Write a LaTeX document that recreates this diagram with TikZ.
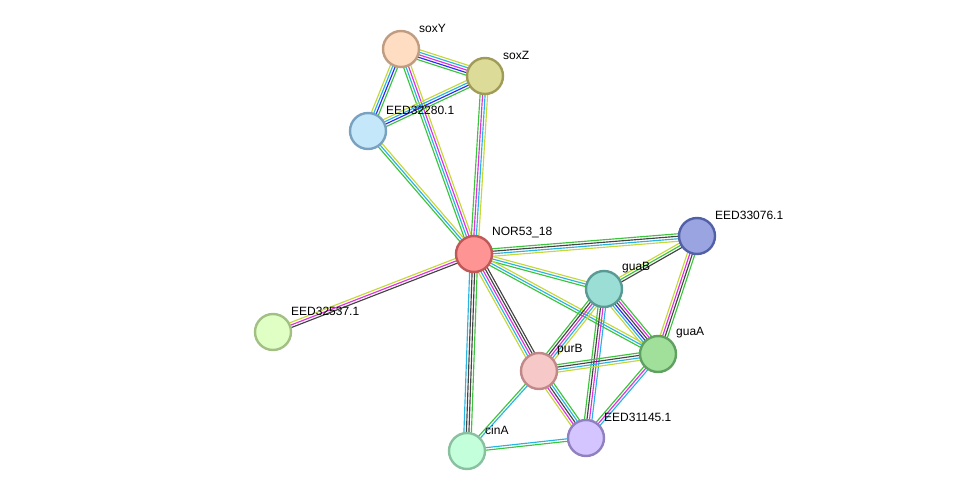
\documentclass[tikz,border=0pt]{standalone}
\usepackage{fontspec}
\setmainfont{Liberation Sans}
\usetikzlibrary{calc}
\pgfdeclarelayer{background}
\pgfsetlayers{background,main}

% evidence channel colours
\definecolor{evgreen}{HTML}{3CC43C}
\definecolor{evcyan}{HTML}{28B4E0}
\definecolor{evblue}{HTML}{2A2AF0}
\definecolor{evmag}{HTML}{E030E0}
\definecolor{evyel}{HTML}{C6D838}
\definecolor{evgray}{HTML}{444444}

\tikzset{
  protein/.style={circle, minimum size=36pt, inner sep=0pt, line width=2.4pt},
  plabel/.style={anchor=west, inner sep=0pt, font=\fontsize{12}{14}\selectfont, text=black},
}

% one bundle of parallel coloured lines between two proteins
\newcommand\strlink[3]{%
  \foreach \c [count=\i] in {#3} {\xdef\nlines{\i}}%
  \foreach \c [count=\i] in {#3} {%
    \pgfmathsetmacro\off{(\i-(\nlines+1)/2)*2.5}%
    \draw[line width=1.15pt, \c]
      ($(#1.center)!\off pt!90:(#2.center)$) --
      ($(#2.center)!\off pt!-90:(#1.center)$);
  }%
}

% protein node (fill and border given as hex) with its label at upper right
\newcommand\protein[5]{%
  \definecolor{#1fill}{HTML}{#4}%
  \definecolor{#1line}{HTML}{#5}%
  \node[protein, fill=#1fill, draw=#1line] (#1) at (#2) {};
  \node[plabel] (#1-lab) at ($(#1.center)+(18,-21)$) {#3};
}

\begin{document}
\begin{tikzpicture}[x=1pt, y=-1pt]
\useasboundingbox (0,0) rectangle (975,497);

\protein{soxY}{401,49}{soxY}{FFDDC2}{C09C80}
\protein{soxZ}{485,76}{soxZ}{DDDB98}{A09C58}
\protein{e280}{368,131}{EED32280.1}{C4E8FA}{78A2C0}
\protein{nor}{474,254}{NOR53\_18}{FF9494}{C05858}
\protein{e076}{697,236}{EED33076.1}{99A4E0}{5260A8}
\protein{guaB}{604,289}{guaB}{9ADED6}{5A9A94}
\protein{e537}{273,332}{EED32537.1}{E0FFC4}{A2C084}
\protein{guaA}{658,354}{guaA}{A0E09A}{60A060}
\protein{purB}{539,371}{purB}{F6C8C8}{C08888}
\protein{cinA}{467,451}{cinA}{C4FFDC}{88C0A0}
\protein{e145}{586,438}{EED31145.1}{D4C4FF}{9080C0}

\begin{pgfonlayer}{background}
\strlink{soxY}{soxZ}{evgreen,evblue,evmag,evcyan,evyel}
\strlink{soxY}{e280}{evyel,evcyan,evblue,evgreen}
\strlink{soxY}{nor}{evgreen,evcyan,evmag,evyel}
\strlink{soxZ}{e280}{evyel,evcyan,evblue,evgreen}
\strlink{soxZ}{nor}{evgreen,evmag,evcyan,evyel}
\strlink{e280}{nor}{evgreen,evcyan,evyel}
\strlink{nor}{e076}{evyel,evcyan,evgray,evgreen}
\strlink{nor}{guaB}{evgreen,evcyan,evyel}
\strlink{nor}{guaA}{evgreen,evcyan,evyel}
\strlink{nor}{purB}{evyel,evcyan,evmag,evgray,evgray}
\strlink{nor}{cinA}{evcyan,evgray,evgray,evgreen}
\strlink{nor}{e537}{evyel,evmag,evgray}
\strlink{guaB}{e076}{evgray,evgreen,evyel}
\strlink{guaB}{guaA}{evyel,evcyan,evblue,evgray,evmag,evgreen}
\strlink{guaB}{purB}{evgreen,evgray,evmag,evcyan,evyel}
\strlink{guaB}{e145}{evgreen,evgray,evmag,evcyan}
\strlink{e076}{guaA}{evyel,evmag,evgray,evgreen}
\strlink{guaA}{purB}{evgreen,evgray,evcyan,evyel}
\strlink{guaA}{e145}{evgreen,evmag,evcyan}
\strlink{purB}{e145}{evyel,evmag,evgray,evcyan,evgreen}
\strlink{purB}{cinA}{evgreen,evcyan}
\strlink{cinA}{e145}{evgreen,evcyan}
\end{pgfonlayer}
\end{tikzpicture}
\end{document}
